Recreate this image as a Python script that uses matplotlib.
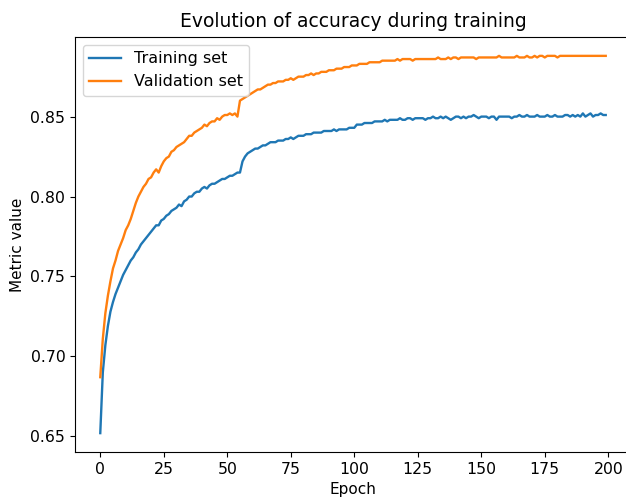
import matplotlib
matplotlib.use("Agg")
import matplotlib.pyplot as plt

title = "Evolution of accuracy during training"
xlabel = "Epoch"
ylabel = "Metric value"
series_names = ["Training set", "Validation set"]

train_acc = [
    0.652, 0.690, 0.707, 0.719, 0.728, 0.734, 0.739, 0.743, 0.747, 0.751,
    0.754, 0.757, 0.760, 0.762, 0.765, 0.767, 0.770, 0.772, 0.774, 0.776,
    0.778, 0.780, 0.782, 0.782, 0.785, 0.786, 0.788, 0.789, 0.791, 0.792,
    0.793, 0.795, 0.794, 0.797, 0.798, 0.800, 0.800, 0.802, 0.803, 0.803,
    0.805, 0.806, 0.805, 0.807, 0.808, 0.808, 0.809, 0.810, 0.811, 0.811,
    0.812, 0.813, 0.813, 0.814, 0.815, 0.815, 0.822, 0.825, 0.827, 0.828,
    0.829, 0.830, 0.830, 0.831, 0.832, 0.832, 0.833, 0.834, 0.834, 0.834,
    0.835, 0.835, 0.835, 0.836, 0.836, 0.837, 0.836, 0.837, 0.838, 0.838,
    0.838, 0.839, 0.839, 0.839, 0.840, 0.840, 0.840, 0.840, 0.841, 0.841,
    0.841, 0.841, 0.842, 0.841, 0.842, 0.842, 0.842, 0.842, 0.843, 0.843,
    0.843, 0.845, 0.845, 0.845, 0.846, 0.846, 0.846, 0.846, 0.847, 0.847,
    0.847, 0.847, 0.848, 0.847, 0.848, 0.848, 0.848, 0.848, 0.849, 0.848,
    0.848, 0.849, 0.849, 0.848, 0.849, 0.849, 0.849, 0.849, 0.848, 0.849,
    0.849, 0.850, 0.849, 0.849, 0.850, 0.849, 0.850, 0.849, 0.848, 0.849,
    0.850, 0.850, 0.849, 0.850, 0.849, 0.850, 0.850, 0.851, 0.850, 0.849,
    0.850, 0.850, 0.850, 0.849, 0.850, 0.850, 0.848, 0.850, 0.850, 0.850,
    0.850, 0.850, 0.849, 0.850, 0.850, 0.851, 0.850, 0.850, 0.851, 0.850,
    0.850, 0.850, 0.851, 0.850, 0.850, 0.850, 0.851, 0.850, 0.850, 0.851,
    0.850, 0.850, 0.850, 0.851, 0.851, 0.850, 0.851, 0.850, 0.851, 0.850,
    0.852, 0.850, 0.851, 0.852, 0.850, 0.851, 0.851, 0.852, 0.851, 0.851,
]

val_acc = [
    0.687, 0.711, 0.727, 0.738, 0.747, 0.755, 0.760, 0.766, 0.770, 0.774,
    0.779, 0.782, 0.786, 0.791, 0.796, 0.800, 0.803, 0.806, 0.808, 0.811,
    0.812, 0.815, 0.817, 0.815, 0.819, 0.822, 0.824, 0.825, 0.828, 0.829,
    0.831, 0.832, 0.833, 0.834, 0.836, 0.838, 0.838, 0.840, 0.841, 0.842,
    0.843, 0.845, 0.844, 0.846, 0.847, 0.847, 0.849, 0.848, 0.850, 0.851,
    0.851, 0.852, 0.851, 0.852, 0.850, 0.860, 0.861, 0.862, 0.863, 0.864,
    0.865, 0.866, 0.867, 0.867, 0.868, 0.869, 0.870, 0.870, 0.871, 0.871,
    0.872, 0.872, 0.872, 0.873, 0.873, 0.874, 0.873, 0.874, 0.875, 0.875,
    0.875, 0.876, 0.876, 0.877, 0.876, 0.877, 0.877, 0.878, 0.878, 0.878,
    0.879, 0.879, 0.879, 0.880, 0.880, 0.880, 0.881, 0.881, 0.881, 0.882,
    0.882, 0.882, 0.883, 0.883, 0.883, 0.883, 0.884, 0.884, 0.884, 0.884,
    0.884, 0.885, 0.885, 0.885, 0.885, 0.885, 0.885, 0.886, 0.885, 0.886,
    0.886, 0.886, 0.886, 0.885, 0.886, 0.886, 0.886, 0.886, 0.886, 0.886,
    0.886, 0.886, 0.886, 0.887, 0.886, 0.886, 0.886, 0.887, 0.886, 0.887,
    0.887, 0.886, 0.887, 0.887, 0.887, 0.887, 0.887, 0.887, 0.886, 0.887,
    0.887, 0.887, 0.887, 0.887, 0.887, 0.887, 0.887, 0.888, 0.887, 0.887,
    0.887, 0.887, 0.887, 0.887, 0.888, 0.887, 0.887, 0.887, 0.888, 0.887,
    0.887, 0.888, 0.887, 0.888, 0.888, 0.887, 0.888, 0.888, 0.888, 0.888,
    0.887, 0.888, 0.888, 0.888, 0.888, 0.888, 0.888, 0.888, 0.888, 0.888,
    0.888, 0.888, 0.888, 0.888, 0.888, 0.888, 0.888, 0.888, 0.888, 0.888,
]

epochs = list(range(len(train_acc)))

fig = plt.figure(figsize=(6.26, 5.0), dpi=100)
ax = fig.add_axes([75 / 626, (500 - 452) / 500, 556 / 626, 415 / 500])
ax.plot(epochs, train_acc, color="#1f77b4", lw=1.7, label=series_names[0])
ax.plot(epochs, val_acc, color="#ff7f0e", lw=1.7, label=series_names[1])

ax.set_title(title, fontsize=13.5, pad=7)
ax.set_xlabel(xlabel, fontsize=11)
ax.set_ylabel(ylabel, fontsize=11)
ax.set_xticks([0, 25, 50, 75, 100, 125, 150, 175, 200])
ax.set_yticks([0.65, 0.70, 0.75, 0.80, 0.85])
ax.tick_params(labelsize=11.3)
ax.legend(loc="upper left", fontsize=11.5)

fig.savefig("out.png", dpi=100)
